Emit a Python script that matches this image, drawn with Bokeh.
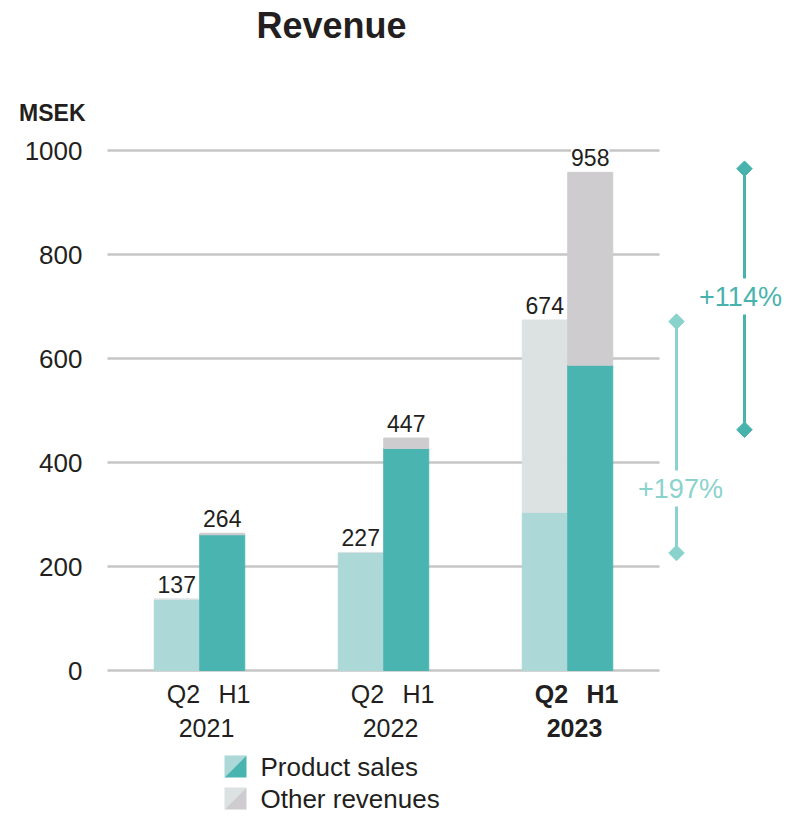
import math
from bokeh.plotting import figure
from bokeh.models import Range1d, ColumnDataSource
from bokeh.core.properties import value
from bokeh.embed import file_html
from bokeh.resources import INLINE

# ---------------- data ----------------
years = ["2021", "2022", "2023"]
periods = ["Q2", "H1"]
q2_product = [137, 227, 304]
q2_other = [0, 0, 370]
h1_product = [261, 427, 587]
h1_other = [3, 20, 372]
q2_total = [137, 227, 674]
h1_total = [264, 447, 958]
y_ticks = [0, 200, 400, 600, 800, 1000]
y_tick_labels = ["0", "200", "400", "600", "800", "1000"]
unit_label = "MSEK"
growth_labels = ["+197%", "+114%"]
growth_from = [226, 463]
growth_to = [671, 965]
legend_labels = ["Product sales", "Other revenues"]

# ---------------- styles ----------------
FONT = "Liberation Sans"
TXT = "#231f20"
C_Q2_PROD = "#acd8d8"
C_H1_PROD = "#4ab4b1"
C_Q2_OTH = "#dce2e2"
C_H1_OTH = "#cecccf"
C_G197 = "#8ad3cc"
C_G114 = "#48b3ad"
GRID = "#c6c6c6"

W, H = 786, 813
AX_L = 107             # canvas x of the category axis start
XPX = 184.0            # px per group
YPX = 0.52             # px per MSEK
Y0 = 670               # canvas y of value 0


def dx(px):            # px offset -> data x offset
    return px / XPX


def X(cx):             # canvas x -> data x
    return -0.5 + (cx - AX_L) / XPX


def Y(cy):             # canvas y -> data y
    return (Y0 - cy) / YPX


p = figure(width=W, height=H, output_backend="svg", toolbar_location=None,
           x_range=Range1d(X(0), X(W)), y_range=Range1d(Y(H), Y(0)),
           min_border_left=0, min_border_right=0, min_border_top=0,
           min_border_bottom=0, outline_line_color=None)
p.xaxis.visible = False
p.yaxis.visible = False
p.xgrid.visible = False
p.ygrid.visible = False

# gridlines
n = len(y_ticks)
p.segment(x0=[-0.5] * n, x1=[2.5] * n, y0=y_ticks, y1=y_ticks,
          line_color=GRID, line_width=2.5)

# y tick labels and unit
p.text(x=[X(82)] * n, y=y_ticks, text=y_tick_labels, text_align="right",
       text_baseline="middle", text_font=value(FONT), text_font_size="26px",
       text_color=TXT)
p.text(x=[X(85)], y=[Y(112)], text=[unit_label], text_align="right",
       text_baseline="middle", text_font=value(FONT), text_font_size="23px",
       text_font_style="bold", text_color=TXT)

# bars
gx = list(range(len(years)))
OFF = 0.1236
BW = 0.2446
xq = [g - OFF for g in gx]
xh = [g + OFF for g in gx]
p.vbar(x=xq, top=q2_product, bottom=0, width=BW, color=C_Q2_PROD)
p.vbar(x=xq, top=q2_total, bottom=q2_product, width=BW, color=C_Q2_OTH)
p.vbar(x=xh, top=h1_product, bottom=0, width=BW, color=C_H1_PROD)
p.vbar(x=xh, top=h1_total, bottom=h1_product, width=BW, color=C_H1_OTH)

# value labels
lab_src = ColumnDataSource(dict(x=xq + xh, y=q2_total + h1_total,
                                t=[str(v) for v in q2_total + h1_total]))
p.text(x="x", y="y", text="t", source=lab_src, text_align="center",
       text_baseline="middle", y_offset=-14.5, text_font=value(FONT),
       text_font_size="23px", text_color=TXT, background_fill_color="white",
       padding=0)

# x category labels
for i, yr in enumerate(years):
    style = "bold" if i == len(years) - 1 else "normal"
    p.text(x=[gx[i] + dx(-16), gx[i] + dx(35)], y=[Y(693), Y(693)],
           text=periods, text_align="center", text_baseline="middle",
           text_font=value(FONT), text_font_size="25px", text_color=TXT,
           text_font_style=style)
    p.text(x=[gx[i] + dx(7)], y=[Y(727)], text=[yr], text_align="center",
           text_baseline="middle", text_font=value(FONT),
           text_font_size="25px", text_color=TXT, text_font_style=style)

# growth brackets
gcols = [C_G197, C_G114]
gxs = [X(676), X(744)]
gty = [Y(488), Y(296)]
gtx = [X(680), X(740)]
for i in range(2):
    p.segment(x0=[gxs[i]], x1=[gxs[i]], y0=[growth_from[i]], y1=[growth_to[i]],
              line_color=gcols[i], line_width=3)
    p.scatter(x=[gxs[i], gxs[i]], y=[growth_from[i], growth_to[i]],
              marker="square", size=11, angle=math.pi / 4, color=gcols[i])
    p.text(x=[gtx[i]], y=[gty[i]], text=[growth_labels[i]], text_align="center",
           text_baseline="middle", text_font=value(FONT), text_font_size="27px",
           text_color=gcols[i], background_fill_color="white", padding=3)

# title
p.text(x=[X(331)], y=[Y(25)], text=["Revenue"], text_align="center",
       text_baseline="middle", text_font=value(FONT), text_font_size="36px",
       text_font_style="bold", text_color=TXT)

# legend
SQ = 22
lx0, lx1 = X(224), X(224 + SQ)
rows = [766, 798]
light = [C_Q2_PROD, C_Q2_OTH]
dark = [C_H1_PROD, C_H1_OTH]
for i, cy in enumerate(rows):
    yt, yb = Y(cy - SQ / 2), Y(cy + SQ / 2)
    p.patches(xs=[[lx0, lx1, lx0], [lx1, lx1, lx0]],
              ys=[[yt, yt, yb], [yt, yb, yb]],
              fill_color=[light[i], dark[i]], line_color=None)
    p.text(x=[X(260)], y=[Y(cy)], text=[legend_labels[i]], text_align="left",
           text_baseline="middle", text_font=value(FONT), text_font_size="26px",
           text_color=TXT)

open("out.html", "w").write(file_html(p, INLINE))
